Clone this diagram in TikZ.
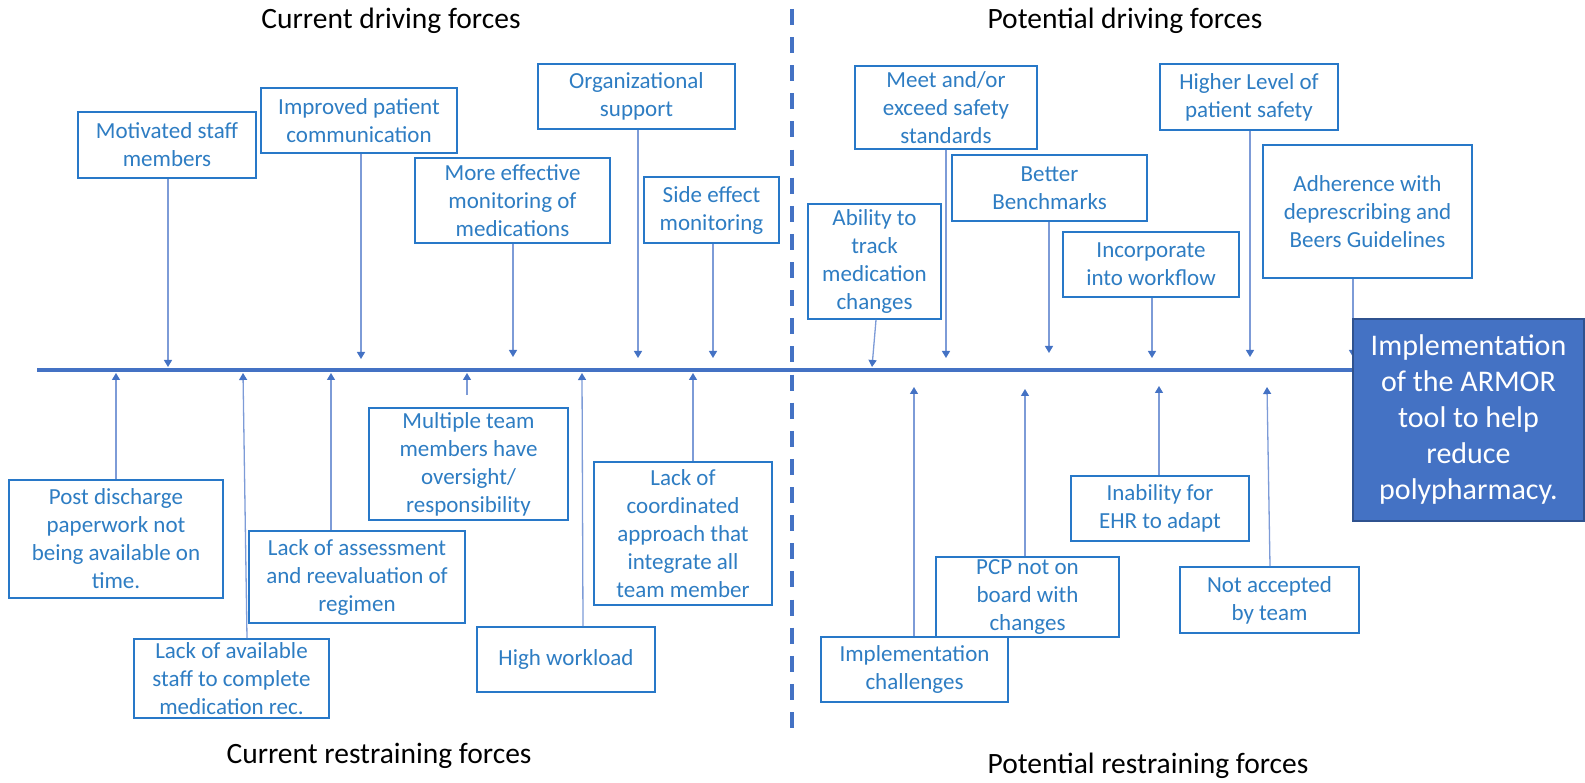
\documentclass[tikz,border=0pt]{standalone}
\usepackage{fontspec}
\setmainfont{Carlito}
\usetikzlibrary{arrows.meta}
\definecolor{mainblue}{HTML}{4472C4}
\definecolor{boxblue}{RGB}{40,120,200}
\definecolor{txtblue}{RGB}{46,125,195}
\definecolor{shaft}{RGB}{125,155,215}
\definecolor{armorborder}{HTML}{2F528F}
\begin{document}
\begin{tikzpicture}[x=1pt,y=-1pt,
  fbox/.style={draw=boxblue, line width=1.8pt, fill=white, text=txtblue, align=center, inner sep=0pt, font=\fontsize{23}{28}\selectfont},
  arr/.style={draw=shaft, line width=1.3pt, -{Triangle[width=8pt,length=7pt,color=mainblue]}},
  title/.style={font=\fontsize{29.5}{34}\selectfont, text=black, inner sep=0pt},
  mainline/.style={draw=mainblue, line width=3.5pt},
  divider/.style={draw=mainblue, line width=3.5pt, dash pattern=on 16pt off 12.12pt},
  armorbox/.style={draw=armorborder, line width=1.5pt, fill=mainblue, text=white, align=center, inner sep=0pt, font=\fontsize{30}{36}\selectfont}
]
\useasboundingbox (0,0) rectangle (1585,783);

% titles
\node[title] (tcd) at (391,21) {Current driving forces};
\node[title] (tpd) at (1125,21) {Potential driving forces};
\node[title] (tcr) at (379,756) {Current restraining forces};
\node[title] (tpr) at (1148,766) {Potential restraining forces};

% divider
\coordinate (dtop) at (792,9);
\coordinate (dbot) at (792,728);
\draw[divider] (dtop) -- (dbot);

% tip coordinates
\coordinate (t1) at (168,367);
\coordinate (t2) at (361,359);
\coordinate (t3) at (513,357);
\coordinate (t4) at (638,358);
\coordinate (t5) at (713,358);
\coordinate (t6) at (946,358);
\coordinate (t7) at (1049,353);
\coordinate (t8) at (872,367);
\coordinate (t9) at (1152,358);
\coordinate (t10) at (1250,357);
\coordinate (t11) at (1353,357);
\coordinate (t12) at (116,373);
\coordinate (t13) at (243,373);
\coordinate (t14) at (331,373);
\coordinate (t15) at (467,373);
\coordinate (t16) at (582,373);
\coordinate (t17) at (693,373);
\coordinate (t18) at (914,387);
\coordinate (t19) at (1025,389);
\coordinate (t20) at (1159,386);
\coordinate (t21) at (1267,387);
\coordinate (lstart) at (37,370);

% boxes: current driving
\node[fbox, minimum width=178, minimum height=66] (mot) at (167,145) {Motivated staff\\members};
\node[fbox, minimum width=196, minimum height=65] (imp) at (359,120.5) {Improved patient\\communication};
\node[fbox, minimum width=195, minimum height=85] (mem) at (512.5,200.5) {More effective\\monitoring of\\medications};
\node[fbox, minimum width=197, minimum height=65] (org) at (636.5,96.5) {Organizational\\support};
\node[fbox, minimum width=135, minimum height=66] (sem) at (711.5,210) {Side effect\\monitoring};
% potential driving
\node[fbox, minimum width=182, minimum height=83] (meet) at (946,107.5) {Meet and/or\\exceed safety\\standards};
\node[fbox, minimum width=195, minimum height=66] (bb) at (1049.5,188) {Better\\Benchmarks};
\node[fbox, minimum width=133, minimum height=115] (abil) at (874.5,261.5) {Ability to\\track\\medication\\changes};
\node[fbox, minimum width=176, minimum height=65] (inc) at (1151,264.5) {Incorporate\\into workflow};
\node[fbox, minimum width=178, minimum height=66] (high) at (1249,97) {Higher Level of\\patient safety};
\node[fbox, minimum width=209, minimum height=133] (adh) at (1367.5,211.5) {Adherence with\\deprescribing and\\Beers Guidelines};
% current restraining
\node[fbox, minimum width=214, minimum height=118] (post) at (116,539) {Post discharge\\paperwork not\\being available on\\time.};
\node[fbox, minimum width=195, minimum height=79] (lavail) at (231.5,678.5) {Lack of available\\staff to complete\\medication rec.};
\node[fbox, minimum width=216, minimum height=92] (lassess) at (357,577) {Lack of assessment\\and reevaluation of\\regimen};
\node[fbox, minimum width=199, minimum height=112] (mult) at (468.5,464) {Multiple team\\members have\\oversight/\\responsibility};
\node[fbox, minimum width=178, minimum height=65] (hw) at (566,659.5) {High workload};
\node[fbox, minimum width=178, minimum height=143] (lcoord) at (683,533.5) {Lack of\\coordinated\\approach that\\integrate all\\team member};
% potential restraining
\node[fbox, minimum width=187, minimum height=65] (ichal) at (914.5,669.5) {Implementation\\challenges};
\node[fbox, minimum width=183, minimum height=80] (pcp) at (1027.5,597) {PCP not on\\board with\\changes};
\node[fbox, minimum width=178, minimum height=65] (ehr) at (1160,508.5) {Inability for\\EHR to adapt};
\node[fbox, minimum width=179, minimum height=66] (nat) at (1269.5,600) {Not accepted\\by team};

% arrows
\draw[arr] (mot.south -| t1) -- (t1);
\draw[arr] (imp.south -| t2) -- (t2);
\draw[arr] (mem.south -| t3) -- (t3);
\draw[arr] (org.south -| t4) -- (t4);
\draw[arr] (sem.south -| t5) -- (t5);
\draw[arr] (meet.south -| t6) -- (t6);
\draw[arr] (bb.south -| t7) -- (t7);
\draw[arr] ([xshift=1.5pt]abil.south) -- (t8);
\draw[arr] (inc.south -| t9) -- (t9);
\draw[arr] (high.south -| t10) -- (t10);
\draw[arr] (adh.south -| t11) -- (t11);
\draw[arr] (post.north -| t12) -- (t12);
\draw[arr] ([xshift=15.5pt]lavail.north) -- (t13);
\draw[arr] (lassess.north -| t14) -- (t14);
\draw[arr] ([yshift=12pt]mult.north -| t15) -- (t15);
\draw[arr] ([xshift=17pt]hw.north) -- (t16);
\draw[arr] (lcoord.north -| t17) -- (t17);
\draw[arr] (ichal.north -| t18) -- (t18);
\draw[arr] (pcp.north -| t19) -- (t19);
\draw[arr] (ehr.north -| t20) -- (t20);
\draw[arr] ([xshift=0.5pt]nat.north) -- (t21);

% result box and main line
\node[armorbox, minimum width=231, minimum height=202] (armor) at (1468.5,420) {Implementation\\of the ARMOR\\tool to help\\reduce\\polypharmacy.};
\draw[mainline] (lstart) -- (armor.west |- lstart);
\end{tikzpicture}
\end{document}
